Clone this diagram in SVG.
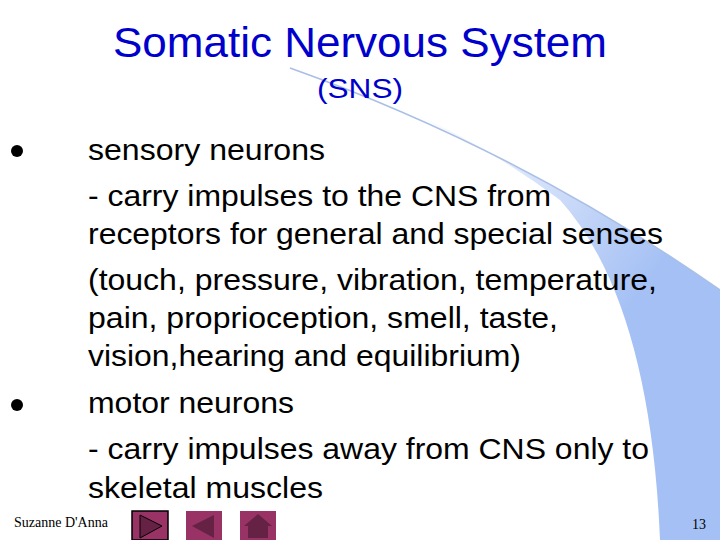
<svg xmlns="http://www.w3.org/2000/svg" width="720" height="540" viewBox="0 0 720 540">
<defs>
<linearGradient id="g" x1="0.3" y1="0.1" x2="0.8" y2="0.5">
<stop offset="0" stop-color="#ffffff"/>
<stop offset="0.4" stop-color="#dce6fa"/>
<stop offset="1" stop-color="#a4c0f4"/>
</linearGradient>
<style>
.t{font-family:"Liberation Sans",Arial,sans-serif;font-size:30px;fill:#000}
.btn{fill:#993366;stroke:none}
.ic{fill:#662244}
</style>
</defs>
<rect width="720" height="540" fill="#fff"/>
<path d="M290 68 Q520 150 720 290 L720 540 L660 540 Q650 300 560 200 Q440 110 290 68 Z" fill="url(#g)"/>
<path d="M290 68 Q520 150 720 290" fill="none" stroke="#a9bfe6" stroke-width="1.5"/>
<g id="title">
<text x="360" y="57" text-anchor="middle" font-family="Liberation Sans,Arial,sans-serif" font-size="42" fill="#0000cc" textLength="494" lengthAdjust="spacingAndGlyphs">Somatic Nervous System</text>
<text x="360" y="98" text-anchor="middle" font-family="Liberation Sans,Arial,sans-serif" font-size="28" fill="#0000cc" textLength="86" lengthAdjust="spacingAndGlyphs">(SNS)</text>
</g>
<g id="body">
<circle cx="17" cy="151" r="6" fill="#000"/>
<circle cx="17" cy="405" r="6" fill="#000"/>
<text class="t" x="88" y="160" textLength="237" lengthAdjust="spacingAndGlyphs">sensory neurons</text>
<text class="t" x="88" y="206" textLength="463" lengthAdjust="spacingAndGlyphs">- carry impulses to the CNS from</text>
<text class="t" x="88" y="244" textLength="575" lengthAdjust="spacingAndGlyphs">receptors for general and special senses</text>
<text class="t" x="88" y="290" textLength="569" lengthAdjust="spacingAndGlyphs">(touch, pressure, vibration, temperature,</text>
<text class="t" x="88" y="328" textLength="470" lengthAdjust="spacingAndGlyphs">pain, proprioception, smell, taste,</text>
<text class="t" x="88" y="366" textLength="433" lengthAdjust="spacingAndGlyphs">vision,hearing and equilibrium)</text>
<text class="t" x="88" y="413" textLength="206" lengthAdjust="spacingAndGlyphs">motor neurons</text>
<text class="t" x="88" y="459" textLength="561" lengthAdjust="spacingAndGlyphs">- carry impulses away from CNS only to</text>
<text class="t" x="88" y="498" textLength="235" lengthAdjust="spacingAndGlyphs">skeletal muscles</text>
</g>
<g id="footer">
<text x="14" y="527" font-family="Liberation Serif,Times New Roman,serif" font-size="14">Suzanne D'Anna</text>
<text x="706" y="529" text-anchor="end" font-family="Liberation Serif,Times New Roman,serif" font-size="14">13</text>
</g>
<g id="btn-next"><rect class="btn" x="132" y="511" width="36" height="29" style="stroke:#000;stroke-width:1.5"/><path class="ic" d="M140 515 L162 526 L140 538 Z" stroke="#000" stroke-width="1"/></g>
<g id="btn-prev"><rect class="btn" x="186" y="511" width="36" height="29"/><path class="ic" d="M214 515 L192 526 L214 538 Z"/></g>
<g id="btn-home"><rect class="btn" x="240" y="511" width="36" height="29"/><path class="ic" d="M258 514 L272 526 L244 526 Z M248 526 H268 V538 H248 Z"/></g>
</svg>
